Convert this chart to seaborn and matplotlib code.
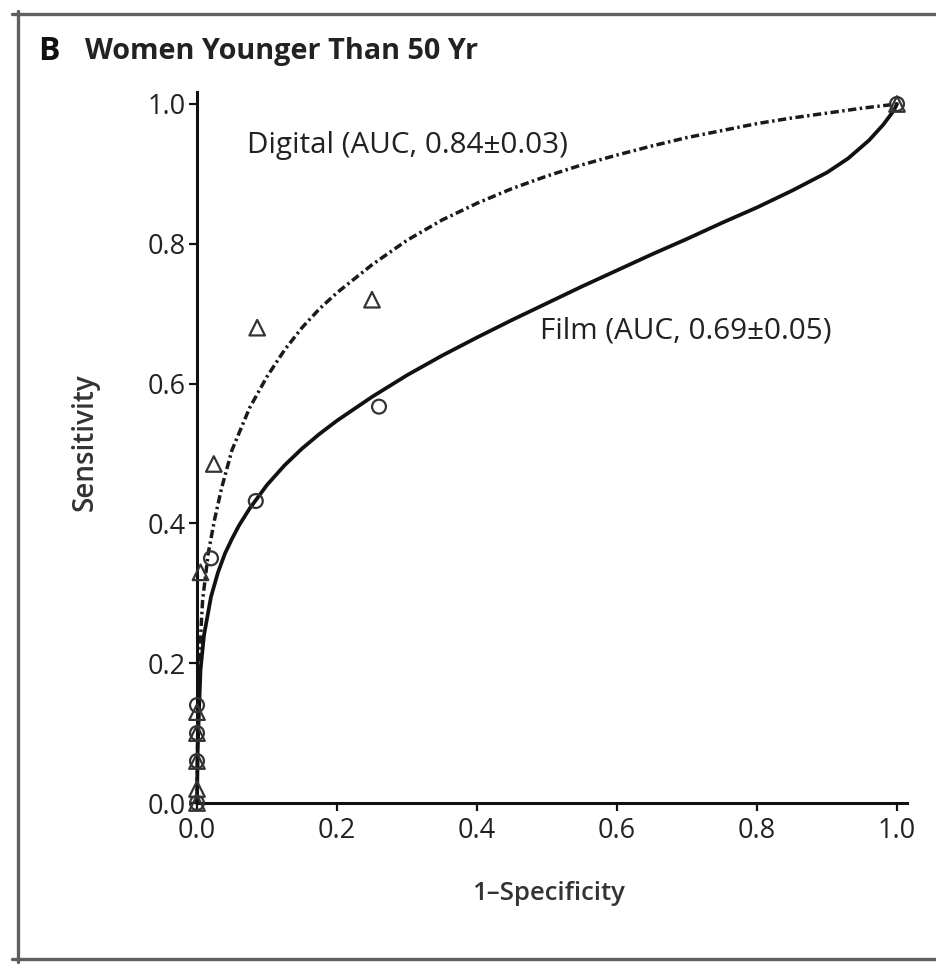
import matplotlib
matplotlib.use("Agg")
import matplotlib.pyplot as plt
import seaborn as sns
import pandas as pd
from matplotlib.lines import Line2D

# ---- data ----
digital_x = [0, 0.001, 0.003, 0.008, 0.016, 0.025, 0.035, 0.050, 0.075, 0.100, 0.125,
             0.150, 0.175, 0.200, 0.250, 0.300, 0.350, 0.400, 0.450, 0.500, 0.550,
             0.600, 0.650, 0.700, 0.750, 0.800, 0.850, 0.900, 0.950, 1.0]
digital_y = [0, 0.10, 0.20, 0.29, 0.357, 0.405, 0.450, 0.505, 0.565, 0.610, 0.648,
             0.680, 0.707, 0.730, 0.770, 0.805, 0.834, 0.858, 0.879, 0.897, 0.913,
             0.927, 0.940, 0.952, 0.962, 0.972, 0.980, 0.987, 0.994, 1.0]
film_x = [0, 0.001, 0.005, 0.010, 0.020, 0.030, 0.040, 0.050, 0.060, 0.075, 0.100,
          0.125, 0.150, 0.175, 0.200, 0.250, 0.300, 0.350, 0.400, 0.450, 0.500,
          0.550, 0.600, 0.650, 0.700, 0.750, 0.800, 0.850, 0.900, 0.930, 0.960,
          0.980, 0.995, 1.0]
film_y = [0, 0.08, 0.19, 0.24, 0.295, 0.330, 0.357, 0.378, 0.397, 0.421, 0.455,
          0.483, 0.507, 0.528, 0.547, 0.581, 0.612, 0.640, 0.666, 0.691, 0.715,
          0.739, 0.762, 0.785, 0.807, 0.830, 0.852, 0.876, 0.902, 0.922, 0.948,
          0.970, 0.990, 1.0]
digital_pts_x = [0, 0, 0, 0, 0, 0.005, 0.024, 0.086, 0.25, 1.0]
digital_pts_y = [0.0, 0.02, 0.06, 0.10, 0.13, 0.33, 0.485, 0.68, 0.72, 1.0]
film_pts_x = [0, 0, 0, 0, 0.02, 0.084, 0.26, 1.0]
film_pts_y = [0.0, 0.06, 0.10, 0.14, 0.35, 0.432, 0.567, 1.0]
ticks = [0.0, 0.2, 0.4, 0.6, 0.8, 1.0]
tick_labels = ["0.0", "0.2", "0.4", "0.6", "0.8", "1.0"]
title_letter = "B"
title_text = "Women Younger Than 50 Yr"
digital_label = "Digital (AUC, 0.84±0.03)"
film_label = "Film (AUC, 0.69±0.05)"
xlabel = "1–Specificity"
ylabel = "Sensitivity"

sns.set_style("ticks")
plt.rcParams['font.family'] = ['Open Sans', 'DejaVu Sans']
plt.rcParams['axes.linewidth'] = 2.2

txt = "#222222"
fig = plt.figure(figsize=(9.36, 9.64), dpi=100)
fig.patch.set_facecolor("white")
W, H = 936, 964
x0, x1 = 197, 897
y0, y1 = 803, 104
xmax, ymax = 1.015, 1.017
ax = fig.add_axes([x0 / W, (H - y0) / H, (x1 - x0) * xmax / W, (y0 - y1) * ymax / H])
ax.set_facecolor("white")

df_d = pd.DataFrame({"x": digital_x, "y": digital_y})
df_f = pd.DataFrame({"x": film_x, "y": film_y})
sns.lineplot(data=df_d, x="x", y="y", sort=False, estimator=None, ax=ax,
             color="#1a1a1a", lw=2.5, linestyle=(0, (2.4, 1.0, 0.7, 1.0)), clip_on=False)
sns.lineplot(data=df_f, x="x", y="y", sort=False, estimator=None, ax=ax,
             color="#111111", lw=2.7, clip_on=False)

pd_d = pd.DataFrame({"x": digital_pts_x, "y": digital_pts_y})
pd_f = pd.DataFrame({"x": film_pts_x, "y": film_pts_y})
sns.scatterplot(data=pd_d, x="x", y="y", marker="^", s=125, facecolor="none",
                edgecolor="#333333", linewidth=1.6, ax=ax, clip_on=False, zorder=4)
sns.scatterplot(data=pd_f, x="x", y="y", marker="o", s=100, facecolor="none",
                edgecolor="#333333", linewidth=1.6, ax=ax, clip_on=False, zorder=4)

ax.set_xlim(0, xmax)
ax.set_ylim(0, ymax)
ax.set_xticks(ticks)
ax.set_xticklabels(tick_labels)
ax.set_yticks(ticks)
ax.set_yticklabels(tick_labels)
ax.tick_params(direction="out", length=6, width=1.6, color="#111111",
               labelsize=19.5, labelcolor=txt)
ax.tick_params(axis="x", pad=4)
ax.tick_params(axis="y", pad=2)
for s in ["top", "right"]:
    ax.spines[s].set_visible(False)
for s in ["left", "bottom"]:
    ax.spines[s].set_color("#111111")

ax.set_xlabel("")
ax.set_ylabel("")
fig.text(548 / W, 1 - 893 / H, xlabel, ha="center", va="center", fontsize=18.5,
         fontweight="semibold", color="#333333")
fig.text(85 / W, 1 - 442 / H, ylabel, ha="center", va="center", fontsize=20,
         fontweight="semibold", color="#333333", rotation=90)

ax.text(0.071, 0.94, digital_label, fontsize=21.3, color=txt, ha="left", va="center")
ax.text(0.49, 0.675, film_label, fontsize=21.3, color=txt, ha="left", va="center")

fig.text(38 / W, 1 - 52 / H, title_letter, fontsize=23, fontweight="bold", color="#111111",
         ha="left", va="center")
fig.text(85 / W, 1 - 52 / H, title_text, fontsize=20.8, fontweight="bold", color="#222222",
         ha="left", va="center")

# outer panel frame (top, left, bottom)
frame_c = "#606060"
fig.add_artist(Line2D([12 / W, 1.0], [1 - 14 / H, 1 - 14 / H], color=frame_c, lw=2.4,
                      transform=fig.transFigure))
fig.add_artist(Line2D([18 / W, 18 / W], [1 - 11 / H, 1 - 962 / H], color=frame_c, lw=2.4,
                      transform=fig.transFigure))
fig.add_artist(Line2D([12 / W, 1.0], [1 - 959 / H, 1 - 959 / H], color=frame_c, lw=2.4,
                      transform=fig.transFigure))

fig.savefig("out.png", dpi=100, facecolor="white")
